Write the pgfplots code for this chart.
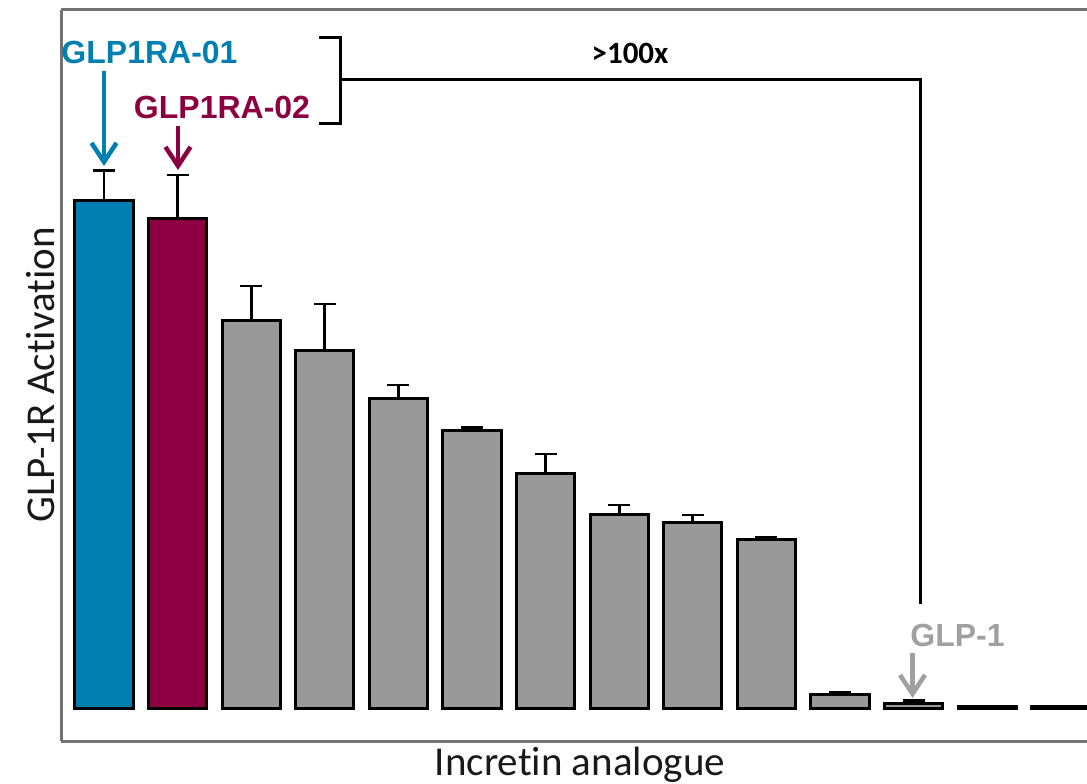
\documentclass[border=0pt]{standalone}
\usepackage{pgfplots}
\pgfplotsset{compat=1.18}
\usepackage{fontspec}
\setmainfont{Carlito}[Ligatures=NoCommon]
\newfontfamily\lsans{Liberation Sans}
\usetikzlibrary{arrows.meta}
\definecolor{cblue}{RGB}{0,127,177}
\definecolor{ccrim}{RGB}{140,0,65}
\definecolor{cgray}{RGB}{153,153,153}
\definecolor{axgray}{RGB}{115,115,115}
\definecolor{lblgray}{RGB}{160,160,160}
\pgfplotsset{myerr/.style={
  error bars/.cd, y dir=plus, y explicit, error mark=|,
  error bar style={line width=2.8bp, black, solid},
  error mark options={line width=2.8bp, mark size=11bp, black, solid}}}
\begin{document}
\begin{tikzpicture}
\useasboundingbox (0,0) rectangle (1087bp,-784bp);
\begin{axis}[
  at={(61bp,-741bp)}, anchor=south west,
  scale only axis, width=1026bp, height=731bp,
  xmin=0.416, xmax=14.356, ymin=-33, ymax=698,
  axis x line*=bottom, axis y line*=left,
  axis line style={draw=axgray, line width=3bp},
  ticks=none, clip=false,
  ybar, bar width=0.79,
]
\addplot[bar shift=0pt, fill=cblue, draw=black, line width=3bp, myerr]
  coordinates {(1,507.5) +- (0,30)};
\addplot[bar shift=0pt, fill=ccrim, draw=black, line width=3bp, myerr]
  coordinates {(2,490) +- (0,43)};
\addplot[bar shift=0pt, fill=cgray, draw=black, line width=3bp, myerr]
  coordinates {
  (3,388) +- (0,34)
  (4,357.5) +- (0,46.5)
  (5,309.5) +- (0,13.5)
  (6,277.5) +- (0,3)
  (7,234.5) +- (0,19.5)
  (8,193.5) +- (0,9.5)
  (9,185.5) +- (0,7.5)
  (10,168.5) +- (0,2.5)
  (11,13.5) +- (0,2.5)
  (12,5) +- (0,2.5)
  (13,1.5) +- (0,0.5)
  (14,1.5) +- (0,0.5)
  };
\draw[axgray, line width=3bp] (rel axis cs:0,1) -- (rel axis cs:1,1);
\end{axis}
% axis titles
\node[rotate=90, anchor=base, text=black!90, font=\fontsize{41bp}{48bp}\selectfont] at (54bp,-375bp) {GLP-1R Activation};
\node[anchor=base, text=black!90, font=\fontsize{41bp}{48bp}\selectfont] at (580bp,-775bp) {Incretin analogue};
% annotations
\node[anchor=base, text=cblue, font=\lsans\bfseries\fontsize{32bp}{38bp}\selectfont] at (149.5bp,-63bp) {GLP1RA-01};
\node[anchor=base, text=ccrim, font=\lsans\bfseries\fontsize{32bp}{38bp}\selectfont] at (222bp,-118bp) {GLP1RA-02};
\node[anchor=base, text=lblgray, font=\lsans\bfseries\fontsize{32bp}{38bp}\selectfont] at (957.5bp,-646bp) {GLP-1};
\node[anchor=base, font=\bfseries\fontsize{31bp}{36bp}\selectfont] at (630bp,-63bp) {>100x};
\draw[cblue, line width=4.5bp, -{Straight Barb[length=19bp,width=25bp]}] (104bp,-71bp) -- (104bp,-166bp);
\draw[ccrim, line width=4.5bp, -{Straight Barb[length=19bp,width=25bp]}] (178bp,-126bp) -- (178bp,-170bp);
\draw[lblgray, line width=4.5bp, -{Straight Barb[length=19bp,width=25bp]}] (912.5bp,-653bp) -- (912.5bp,-698bp);
\draw[black, line width=3bp] (319bp,-37bp) -- (340bp,-37bp) -- (340bp,-123bp) -- (319bp,-123bp);
\draw[black, line width=3bp] (340bp,-79.5bp) -- (920bp,-79.5bp) -- (920bp,-604bp);
\end{tikzpicture}
\end{document}
